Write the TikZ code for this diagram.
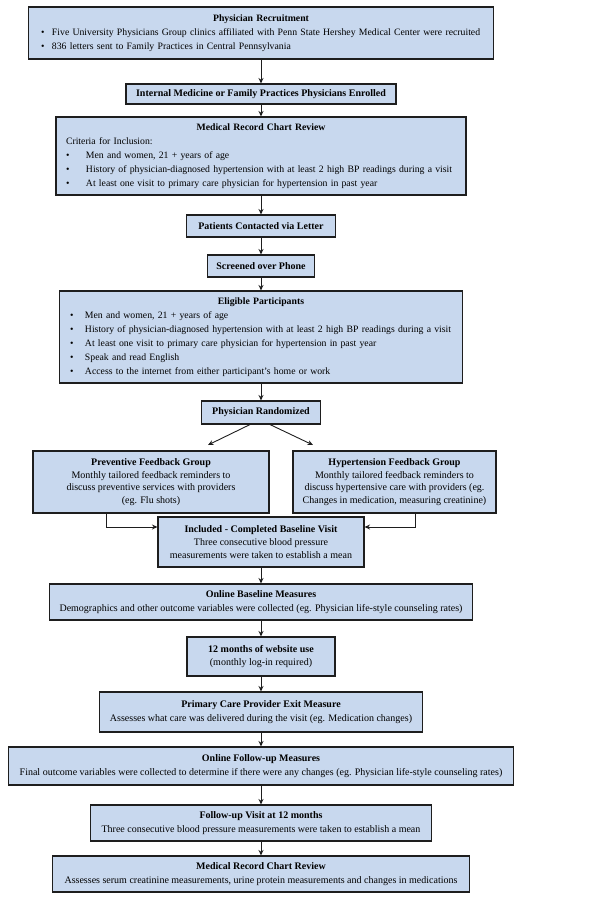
\documentclass[tikz,border=0pt]{standalone}
\usepackage{fontspec}
\setmainfont{Liberation Serif}
\usetikzlibrary{arrows.meta}
\setlength{\parindent}{0pt}
\definecolor{boxblue}{HTML}{C8D8EE}
\definecolor{boxline}{HTML}{1E1E1E}
\tikzset{
  stage/.style={draw=boxline, fill=boxblue, line width=1.1pt, inner xsep=0pt, inner ysep=0pt, align=center, font=\fontsize{10}{13.5}\selectfont},
  liststage/.style={stage, align=left, font=\fontsize{9.75}{14}\selectfont},
  flow/.style={-{Stealth[length=5.5pt,width=5pt]}, line width=0.9pt, draw=boxline},
}
\newcommand{\ctitle}[2]{\makebox[#1][c]{\textbf{#2}}}
\newcommand{\bitem}[2][11pt]{\makebox[#1][l]{\textbullet}#2}

\begin{document}
\begin{tikzpicture}[x=1pt, y=-1pt]
    \useasboundingbox (0,0) rectangle (598,900);



    \node[liststage, minimum width=465, minimum height=52, text width=440] (recruit) at (261,33) {\ctitle{440pt}{Physician Recruitment}\\
    \bitem{Five University Physicians Group clinics affiliated with Penn State Hershey Medical Center were recruited}\\
    \bitem{836 letters sent to Family Practices in Central Pennsylvania}};

    \node[stage, minimum width=270, minimum height=20] (enrolled) at (261,94) {\textbf{Internal Medicine or Family Practices Physicians Enrolled}};

    \node[liststage, minimum width=410, minimum height=78, text width=390] (chart) at (261,156) {\ctitle{390pt}{Medical Record Chart Review}\\
    Criteria for Inclusion:\\
    \bitem[18pt]{\hspace{2pt}Men and women, 21 + years of age}\\
    \bitem[18pt]{\hspace{2pt}History of physician-diagnosed hypertension with at least 2 high BP readings during a visit}\\
    \bitem[18pt]{\hspace{2pt}At least one visit to primary care physician for hypertension in past year}};

    \node[stage, minimum width=149, minimum height=22] (letter) at (261,226) {\textbf{Patients Contacted via Letter}};

    \node[stage, minimum width=107, minimum height=22] (phone) at (261,266) {\textbf{Screened over Phone}};

    \node[liststage, minimum width=403, minimum height=92, text width=382] (eligible) at (261,337) {\ctitle{382pt}{Eligible Participants}\\
    \bitem[15pt]{Men and women, 21 + years of age}\\
    \bitem[15pt]{History of physician-diagnosed hypertension with at least 2 high BP readings during a visit}\\
    \bitem[15pt]{At least one visit to primary care physician for hypertension in past year}\\
    \bitem[15pt]{Speak and read English}\\
    \bitem[15pt]{Access to the internet from either participant's home or work}};

    \node[stage, minimum width=119, minimum height=23] (random) at (261,412.5) {\textbf{Physician Randomized}};

    \node[stage, minimum width=236, minimum height=62, font=\fontsize{10}{12.5}\selectfont] (preventive) at (151,482) {\textbf{Preventive Feedback Group}\\
    Monthly tailored feedback reminders to\\
    discuss preventive services with providers\\
    (eg. Flu shots)};

    \node[stage, minimum width=203, minimum height=62, font=\fontsize{10}{12.5}\selectfont] (hypert) at (394.5,482) {\textbf{Hypertension Feedback Group}\\
    Monthly tailored feedback reminders to\\
    discuss hypertensive care with providers (eg.\\
    Changes in medication, measuring creatinine)};

    \node[stage, minimum width=206, minimum height=50, font=\fontsize{10}{13}\selectfont] (baseline) at (261,542) {\textbf{Included - Completed Baseline Visit}\\
    Three consecutive blood pressure\\
    measurements were taken to establish a mean};

    \node[stage, minimum width=423, minimum height=36] (onlinebase) at (261,602) {\textbf{Online Baseline Measures}\\
    Demographics and other outcome variables were collected (eg. Physician life-style counseling rates)};

    \node[stage, minimum width=148, minimum height=39] (website) at (261,656.5) {\textbf{12 months of website use}\\
    (monthly log-in required)};

    \node[stage, minimum width=323, minimum height=40] (exit) at (261,712) {\textbf{Primary Care Provider Exit Measure}\\
    Assesses what care was delivered during the visit (eg. Medication changes)};

    \node[stage, minimum width=505, minimum height=38] (onlinefollow) at (261,766) {\textbf{Online Follow-up Measures}\\
    Final outcome variables were collected to determine if there were any changes (eg. Physician life-style counseling rates)};

    \node[stage, minimum width=341, minimum height=36] (visit) at (261,823) {\textbf{Follow-up Visit at 12 months}\\
    Three consecutive blood pressure measurements were taken to establish a mean};

    \node[stage, minimum width=417, minimum height=36] (review) at (261,874) {\textbf{Medical Record Chart Review}\\
    Assesses serum creatinine measurements, urine protein measurements and changes in medications};


    \draw[flow] (recruit) -- (enrolled);
    \draw[flow] (enrolled) -- (chart);
    \draw[flow] (chart) -- (letter);
    \draw[flow] (letter) -- (phone);
    \draw[flow] (phone) -- (eligible);
    \draw[flow] (eligible) -- (random);

    \coordinate (toprev) at (208,445);
    \coordinate (tohyp) at (313,445);
    \draw[flow] ([xshift=-11pt]random.south) -- (toprev);
    \draw[flow] ([xshift=9pt]random.south) -- (tohyp);

    \draw[flow] (preventive.south -| 106,0) |- ([yshift=15pt]baseline.west);
    \draw[flow] (hypert.south -| 415,0) |- ([yshift=15pt]baseline.east);

    \draw[flow] (baseline) -- (onlinebase);
    \draw[flow] (onlinebase) -- (website);
    \draw[flow] (website) -- (exit);
    \draw[flow] (exit) -- (onlinefollow);
    \draw[flow] (onlinefollow) -- (visit);
    \draw[flow] (visit) -- (review);
    \end{tikzpicture}
\end{document}
